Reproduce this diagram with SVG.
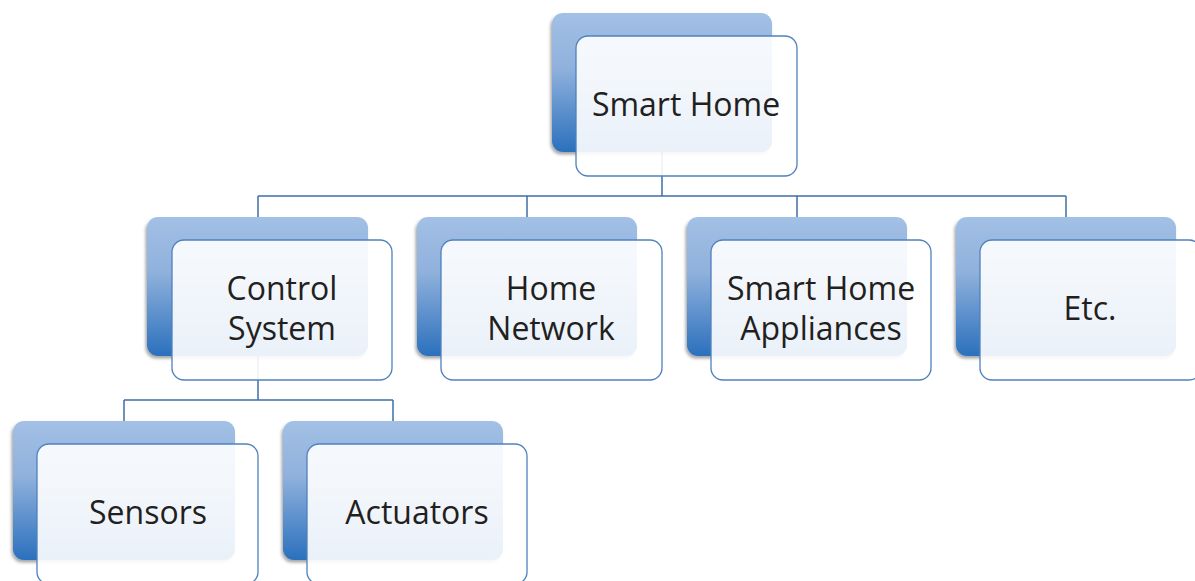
<svg xmlns="http://www.w3.org/2000/svg" width="1195" height="581" viewBox="0 0 1195 581">
  <defs>
    <linearGradient id="backGrad" x1="0" y1="0" x2="0" y2="1">
      <stop offset="0" stop-color="#a3c0e5"/>
      <stop offset="0.4" stop-color="#8fb1dc"/>
      <stop offset="1" stop-color="#2b70bd"/>
    </linearGradient>
    <filter id="shadow" x="-10%" y="-10%" width="120%" height="125%">
      <feDropShadow dx="-1.5" dy="2.5" stdDeviation="1.8" flood-color="#000" flood-opacity="0.35"/>
    </filter>
  </defs>
  <style>
    .back { fill: url(#backGrad); filter: url(#shadow); }
    .front { fill: #ffffff; fill-opacity: 0.9; stroke: #4f81bd; stroke-width: 1.3; }
    .lbl { font-family: "Open Sans", "Liberation Sans", sans-serif; font-size: 32px; fill: #231f20; text-anchor: middle; }
    .conn { fill: none; stroke: #3f6ea9; stroke-width: 1.5; }
  </style>
  <rect width="1195" height="581" fill="#ffffff"/>

  <g id="connectors">
    <path class="conn" d="M662 152 V196 M258 196 H1066 M258 196 V217 M527 196 V217 M797 196 V217 M1066 196 V217"/>
    <path class="conn" d="M258 356 V400 M124 400 H393 M124 400 V421 M393 400 V421"/>
  </g>

  <g id="node-smart-home">
    <rect class="back" x="552" y="13" width="220" height="139" rx="11"/>
    <rect class="front" x="576" y="36" width="221" height="140" rx="12"/>
    <text class="lbl" x="686" y="116">Smart Home</text>
  </g>

  <g id="node-control-system">
    <rect class="back" x="147" y="217" width="221" height="139" rx="11"/>
    <rect class="front" x="172" y="240" width="220" height="140" rx="12"/>
    <text class="lbl" x="282" y="300">Control</text>
    <text class="lbl" x="282" y="340">System</text>
  </g>

  <g id="node-home-network">
    <rect class="back" x="417" y="217" width="220" height="139" rx="11"/>
    <rect class="front" x="441" y="240" width="221" height="140" rx="12"/>
    <text class="lbl" x="551" y="300">Home</text>
    <text class="lbl" x="551" y="340">Network</text>
  </g>

  <g id="node-appliances">
    <rect class="back" x="687" y="217" width="220" height="139" rx="11"/>
    <rect class="front" x="711" y="240" width="220" height="140" rx="12"/>
    <text class="lbl" x="821" y="300">Smart Home</text>
    <text class="lbl" x="821" y="340">Appliances</text>
  </g>

  <g id="node-etc">
    <rect class="back" x="956" y="217" width="220" height="139" rx="11"/>
    <rect class="front" x="980" y="240" width="221" height="140" rx="12"/>
    <text class="lbl" x="1090" y="320">Etc.</text>
  </g>

  <g id="node-sensors">
    <rect class="back" x="13" y="421" width="222" height="139" rx="11"/>
    <rect class="front" x="37" y="444" width="221" height="140" rx="12"/>
    <text class="lbl" x="148" y="524">Sensors</text>
  </g>

  <g id="node-actuators">
    <rect class="back" x="283" y="421" width="220" height="139" rx="11"/>
    <rect class="front" x="307" y="444" width="220" height="140" rx="12"/>
    <text class="lbl" x="417" y="524">Actuators</text>
  </g>
</svg>
